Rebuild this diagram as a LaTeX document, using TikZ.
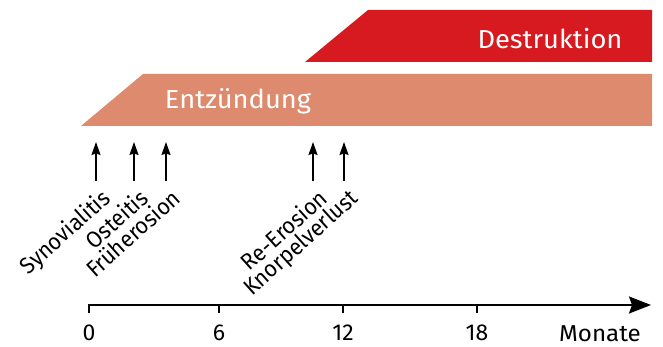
\documentclass[tikz,border=0pt]{standalone}
\usepackage{fontspec}
\setmainfont{Fira Sans}
\usetikzlibrary{arrows.meta, calc}
\definecolor{destrot}{RGB}{215,25,32}
\definecolor{entzlachs}{RGB}{222,138,110}
\tikzset{
  band/.style={draw=none},
  bandtext/.style={text=white, font=\fontsize{26}{29}\selectfont},
  event/.style={line width=1.4pt, -{Stealth[length=13pt,width=9pt,inset=1.5pt]}},
  eventlabel/.style={rotate=42, anchor=north east, inner sep=0pt, font=\fontsize{23}{25}\selectfont},
  zeitachse/.style={line width=1.8pt, -{Stealth[length=22pt,width=17pt,inset=3pt]}},
  tick/.style={line width=1.2pt},
  ticklabel/.style={anchor=north, inner sep=0pt, font=\fontsize{23}{25}\selectfont}
}
\begin{document}
\begin{tikzpicture}[x=1pt,y=-1pt]
\useasboundingbox (0,0) rectangle (663,347);
%Baender
\fill[band, destrot] (305,62) -- (368,10) -- (652,10) -- (652,62) -- cycle;
\fill[band, entzlachs] (81,126) -- (143,74) -- (652,74) -- (652,126) -- cycle;
\node[bandtext] (destr) at (550,39) {\scalebox{1.05}[1]{Destruktion}};
\node[bandtext] (entz) at (238,101) {\scalebox{1.05}[1]{Entzündung}};
%Ereignisse
\foreach \name/\xpos/\txt in {syn/96/Synovialitis, ost/134/Osteitis, frueh/166/Früherosion, reero/313/Re-Erosion, knorp/344/Knorpelverlust}{
  \coordinate (\name-unten) at (\xpos,181);
  \coordinate (\name-oben) at (\xpos,142);
  \draw[event] (\name-unten) -- (\name-oben);
  \node[eventlabel] (\name-lbl) at (\xpos+4,187) {\scalebox{0.94}[1]{\txt}};
}
%Zeitachse
\coordinate (t0) at (88,305);
\coordinate (tend) at (651,305);
\draw[zeitachse] (t0) -- (tend);
\foreach \m/\xpos in {0/89, 6/219, 12/343, 18/477}{
  \coordinate (tick\m) at (\xpos,305);
  \draw[tick] (tick\m) -- ++(0,8);
  \node[ticklabel] (lbl\m) at ($(tick\m)+(0,20)$) {\m};
}
\node[ticklabel] (monate) at (600,325) {\scalebox{1.05}[1]{Monate}};
\end{tikzpicture}
\end{document}
